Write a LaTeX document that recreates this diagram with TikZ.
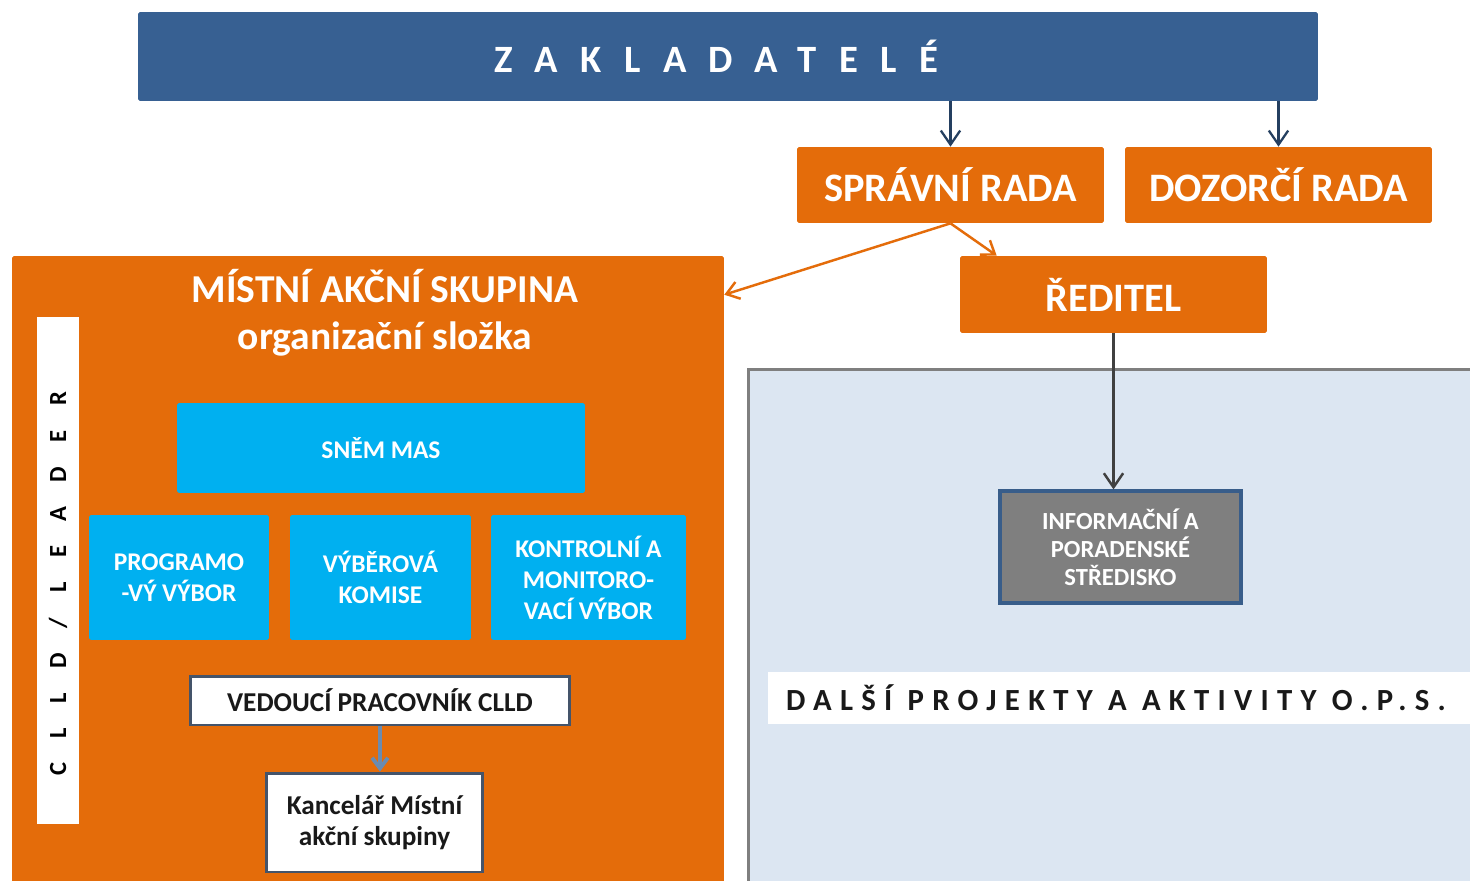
\documentclass[tikz,border=0pt]{standalone}
\usepackage{fontspec}
\setmainfont{Carlito}
\usetikzlibrary{arrows.meta,calc}

\definecolor{zakblue}{HTML}{376092}
\definecolor{masorange}{HTML}{E46C0A}
\definecolor{mascyan}{HTML}{00B0F0}
\definecolor{opslight}{HTML}{DCE6F2}
\definecolor{opsedge}{HTML}{7F7F7F}
\definecolor{infogray}{HTML}{7F7F7F}
\definecolor{infoedge}{HTML}{385D8A}
\definecolor{boxedge}{HTML}{44546A}
\definecolor{navyarrow}{HTML}{243F60}
\definecolor{darkarrow}{HTML}{404040}
\definecolor{slatearrow}{HTML}{6A8BB0}

\begin{document}
\begin{tikzpicture}[x=0.02cm, y=-0.02cm,
	orangebox/.style={fill=masorange, text=white, rounded corners=1pt,
		font=\bfseries\fontsize{23}{26}\selectfont, minimum width=6.14cm, minimum height=1.52cm},
	cyanbox/.style={fill=mascyan, text=white, rounded corners=1pt, align=center,
		font=\bfseries\fontsize{14.5}{17.6}\selectfont, minimum height=2.5cm},
	whitebox/.style={fill=white, draw=boxedge, line width=1.7pt, align=center, text=black!90},
	tip/.style={-{Straight Barb[length=8pt,width=11pt]}}]
	\clip (0,0) rectangle (1470,881);
	\fill[white] (0,0) rectangle (1470,881);

	% founders and boards
	\node[fill=zakblue, minimum width=23.6cm, minimum height=1.78cm, rounded corners=1pt] (zakl) at (728,56.5) {};
	\node[text=white, font=\bfseries\fontsize{22}{26}\selectfont, anchor=west] (zakltext) at (488,56.5)
		{\addfontfeature{LetterSpace=58}ZAKLADATELÉ};
	\node[orangebox] (sprava) at (950.5,185) {SPRÁVNÍ RADA};
	\node[orangebox] (dozor) at (1278.5,185) {DOZORČÍ RADA};
	\node[orangebox, minimum height=1.54cm] (reditel) at (1113.5,294.5) {ŘEDITEL};

	\draw[navyarrow, line width=1.3pt, tip] (sprava.north |- zakl.south) -- (sprava.north);
	\draw[navyarrow, line width=1.3pt, tip] (dozor.north |- zakl.south) -- (dozor.north);

	% MAS
	\node[fill=masorange, minimum width=14.24cm, minimum height=12.88cm, rounded corners=1pt] (mas) at (368,578) {};
	\node[text=white, align=center, font=\bfseries\fontsize{22.5}{27}\selectfont] (mastitle) at (385,313)
		{MÍSTNÍ AKČNÍ SKUPINA\\organizační složka};
	\node[fill=white, minimum width=10.14cm, minimum height=0.84cm, rotate=90] (leader) at (58,570.5) {};
	\node[rotate=90, anchor=west, font=\bfseries\fontsize{14}{16}\selectfont] (leadertext) at (58,782)
		{\addfontfeature{LetterSpace=100}CLLD/LEADER};

	\node[cyanbox, minimum width=8.16cm, minimum height=1.8cm] (snem) at (381,448) {SNĚM MAS};
	\node[cyanbox, minimum width=3.6cm] (prog) at (179,577.5) {PROGRAMO\\-VÝ VÝBOR};
	\node[cyanbox, minimum width=3.62cm] (vyber) at (380.5,577.5) {VÝBĚROVÁ\\KOMISE};
	\node[cyanbox, minimum width=3.9cm] (kontr) at (588.5,577.5) {KONTROLNÍ A\\MONITORO-\\VACÍ VÝBOR};

	\node[whitebox, minimum width=7.6cm, minimum height=0.98cm,
		font=\bfseries\fontsize{15.5}{18}\selectfont] (ved) at (380,700.5) {VEDOUCÍ PRACOVNÍK CLLD};
	\node[whitebox, minimum width=4.34cm, minimum height=1.98cm,
		font=\bfseries\fontsize{15.5}{18}\selectfont] (kanc) at (374.5,822.5) {Kancelář Místní\\akční skupiny};
	\draw[slatearrow, line width=2.2pt, -{Straight Barb[length=6pt,width=9pt]}] (ved.south) -- (ved.south |- kanc.north);

	% o.p.s. projects
	\node[fill=opslight, draw=opsedge, line width=1.7pt, minimum width=14.64cm, minimum height=10.52cm] (ops) at (1114,632) {};
	\fill[white] (768,672) rectangle (1480,724);
	\node[font=\bfseries\fontsize{17.5}{20}\selectfont, text=black!90, anchor=west] (dalsi) at (780,698)
		{\addfontfeature{LetterSpace=27}DALŠÍ PROJEKTY A AKTIVITY O.P.S.};
	\node[fill=infogray, draw=infoedge, line width=1.8pt, text=white, align=center,
		minimum width=4.82cm, minimum height=2.24cm,
		font=\bfseries\fontsize{14}{16}\selectfont] (info) at (1120.5,547)
		{INFORMAČNÍ A\\PORADENSKÉ\\STŘEDISKO};

	% links
	\draw[darkarrow, line width=1.4pt, tip] (reditel.south) -- (reditel.south |- info.north);
	\draw[masorange, line width=1.4pt, -{Straight Barb[length=7pt,width=10pt]}] (sprava.south) -- ($(reditel.north west)+(37,0)$);
	\draw[masorange, line width=1.4pt, -{Straight Barb[length=7pt,width=10pt]}] (sprava.south) -- ($(mas.north east)+(0,39)$);
\end{tikzpicture}
\end{document}
